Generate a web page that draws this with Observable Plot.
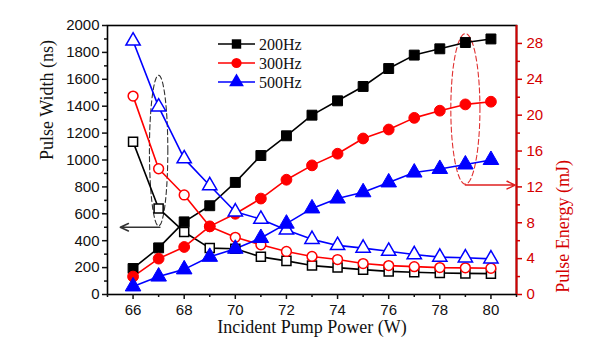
<!DOCTYPE html>
<html><head><meta charset="utf-8">
<script src="https://cdn.jsdelivr.net/npm/d3@7"></script>
<script src="https://cdn.jsdelivr.net/npm/@observablehq/plot@0.6"></script>
<style>body{margin:0;background:#fff;} #chart{position:relative;width:600px;height:353px;}</style>
</head><body><div id="chart"></div>
<script>
// ---- data ----
const power = [66,67,68,69,70,71,72,73,74,75,76,77,78,79,80];
const seriesNames = ["200Hz","300Hz","500Hz"];
// Pulse energy (mJ), right axis, filled markers
const energy200 = [2.9,5.2,8.1,9.9,12.5,15.5,17.7,20.0,21.6,23.2,25.2,26.7,27.4,28.1,28.5];
const energy300 = [2.0,4.0,5.3,7.6,9.0,10.7,12.8,14.4,15.7,17.4,18.4,19.7,20.5,21.2,21.5];
const energy500 = [0.9,2.0,2.8,4.2,5.1,6.3,7.9,9.6,10.7,11.4,12.5,13.6,14.0,14.5,15.0];
// Pulse width (ns), left axis, open markers
const width200 = [1135,640,465,345,340,280,250,215,200,185,172,165,160,157,155];
const width300 = [1475,935,740,505,425,370,320,283,260,230,215,207,200,198,195];
const width500 = [1885,1395,1010,810,615,560,480,410,365,345,322,297,278,273,265];
// ticks
const xTicks = [66,68,70,72,74,76,78,80];
const xMinor = [65,67,69,71,73,75,77,79,81];
const leftTicks = [0,200,400,600,800,1000,1200,1400,1600,1800,2000];
const leftMinor = [100,300,500,700,900,1100,1300,1500,1700,1900];
const rightTicks = [0,4,8,12,16,20,24,28];
const rightMinor = [2,6,10,14,18,22,26];
// annotations: ellipses (x center, y center, x radius, y radius, axis) and arrows
const ellipseCx = [67, 79];
const ellipseCy = [1070, 20.7];
const ellipseRx = [0.36, 0.57];
const ellipseRy = [560, 8.4];
const ellipseAxis = ["left","right"];
const arrowX1 = [67.05, 79.0];
const arrowX2 = [65.5, 80.95];
const arrowY = [500, 12.2];
const arrowAxis = ["left","right"];

// ---- styling / scales ----
const colors = ["#000000","#ff0000","#0000ff"];
const symbols = ["square","circle","triangle"];
const radii = [5.6,5.4,5.8];
const xDomain = [65,81];
const leftMax = 2000, rightMax = 30;
const k = leftMax / rightMax;
const axisRed = "#d40000";

const energies = [energy200, energy300, energy500];
const widths = [width200, width300, width500];

const marks = [];
marks.push(Plot.frame({stroke:"#000", strokeWidth:1.6}));
marks.push(Plot.ruleX([xDomain[1]], {stroke: axisRed, strokeWidth: 2}));

// annotations
const ellipseRows = [];
ellipseCx.forEach((cx,i)=>{
  const f = ellipseAxis[i]==="right" ? k : 1;
  d3.range(0, 64).forEach(t=>{
    const a = t/64*2*Math.PI;
    ellipseRows.push({e:i, x: cx + ellipseRx[i]*Math.cos(a), y: (ellipseCy[i] + ellipseRy[i]*Math.sin(a))*f});
  });
});
marks.push(Plot.line(ellipseRows.filter(d=>d.e===0), {x:"x", y:"y", curve:"linear-closed", stroke:"#333", strokeWidth:1.1, strokeDasharray:"5,3"}));
marks.push(Plot.line(ellipseRows.filter(d=>d.e===1), {x:"x", y:"y", curve:"linear-closed", stroke:"#e03030", strokeWidth:1.1, strokeDasharray:"5,3"}));
const arrowRows = arrowX1.map((x1,i)=>({x1, x2: arrowX2[i], y: arrowY[i]*(arrowAxis[i]==="right"?k:1), c: i===0?"#333":"#e02020"}));
marks.push(Plot.arrow(arrowRows, {x1:"x1", x2:"x2", y1:"y", y2:"y", stroke:"c", strokeWidth:1.5, headLength:9, headAngle:50}));

// lines
seriesNames.forEach((s,i)=>{
  const eRows = power.map((p,j)=>({p, v: energies[i][j]*k}));
  const wRows = power.map((p,j)=>({p, v: widths[i][j]}));
  marks.push(Plot.line(wRows, {x:"p", y:"v", stroke: colors[i], strokeWidth:1.6}));
  marks.push(Plot.line(eRows, {x:"p", y:"v", stroke: colors[i], strokeWidth:1.6}));
});
seriesNames.forEach((s,i)=>{
  const eRows = power.map((p,j)=>({p, v: energies[i][j]*k}));
  const wRows = power.map((p,j)=>({p, v: widths[i][j]}));
  marks.push(Plot.dot(wRows, {x:"p", y:"v", symbol: ()=>symbols[i], fill:"white", stroke: colors[i], strokeWidth:1.5, r: radii[i]-0.5}));
  marks.push(Plot.dot(eRows, {x:"p", y:"v", symbol: ()=>symbols[i], fill: colors[i], stroke: colors[i], strokeWidth:1, r: radii[i]}));
});

// axes
marks.push(Plot.axisX({ticks: xTicks, tickSize:5, tickPadding:5, label:null, strokeWidth:1.5, fontSize:15}));
marks.push(Plot.axisX({ticks: xMinor, tickSize:3, tickFormat:()=>"", label:null, strokeWidth:1.5}));
marks.push(Plot.axisY({ticks: leftTicks, tickSize:5, tickPadding:3, tickFormat: d=>String(d), label:null, strokeWidth:1.5, fontSize:15}));
marks.push(Plot.axisY({ticks: leftMinor, tickSize:3, tickFormat:()=>"", label:null, strokeWidth:1.5}));
marks.push(Plot.axisY({anchor:"right", ticks: rightTicks.map(e=>e*k), tickFormat: d=>String(Math.round(d/k)), color: axisRed, tickSize:5, tickPadding:5, label:null, strokeWidth:1.5, fontSize:15}));
marks.push(Plot.axisY({anchor:"right", ticks: rightMinor.map(e=>e*k), tickFormat: ()=>"", color: axisRed, tickSize:3, label:null, strokeWidth:1.5}));

// axis titles
const serif = "'Liberation Serif', 'Times New Roman', serif";
marks.push(Plot.text(["Pulse Width (ns)"], {text: d=>d, frameAnchor:"left", rotate:-90, dx:-60, fontFamily: serif, fontSize:18, fill:"#111"}));
marks.push(Plot.text(["Pulse Energy (mJ)"], {text: d=>d, frameAnchor:"right", rotate:-90, dx:47, fontFamily: serif, fontSize:18, fill: axisRed}));
marks.push(Plot.text(["Incident Pump Power (W)"], {text: d=>d, frameAnchor:"bottom", dy:38, fontFamily: serif, fontSize:18, fill:"#111"}));

const chart = Plot.plot({
  width:600, height:353,
  marginLeft:107, marginRight:84, marginTop:25, marginBottom:59,
  x:{domain: xDomain},
  y:{domain:[0, leftMax]},
  style:{fontFamily:"'Liberation Sans', Arial, sans-serif", fontSize:"15px", color:"#111", background:"white"},
  marks
});
document.getElementById("chart").appendChild(chart);

// legend
const svg = d3.select(chart);
const lg = svg.append("g").attr("text-anchor","start");
seriesNames.forEach((s,i)=>{
  const y = 44 + i*19;
  lg.append("line").attr("x1",218).attr("x2",255).attr("y1",y).attr("y2",y).attr("stroke",colors[i]).attr("stroke-width",1.6);
  const sym = d3.symbol().type(i===0?d3.symbolSquare:i===1?d3.symbolCircle:d3.symbolTriangle).size(Math.PI*radii[i]*radii[i]*0.9);
  lg.append("path").attr("d", sym()).attr("transform",`translate(236.5,${y})`).attr("fill",colors[i]);
  lg.append("text").attr("x",259).attr("y",y).attr("dy","0.35em").attr("text-anchor","start").attr("font-family",serif).attr("font-size",16).attr("fill","#111").text(s);
});
</script></body></html>
